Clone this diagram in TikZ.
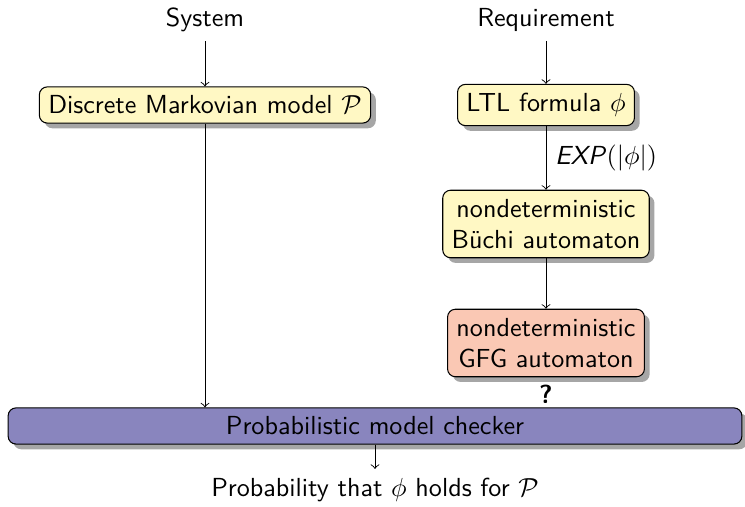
\documentclass[tikz,border=0pt]{standalone}
\usetikzlibrary{shadows}
\renewcommand{\familydefault}{\sfdefault}
\definecolor{boxyellow}{RGB}{255,248,196}
\definecolor{boxsalmon}{RGB}{250,200,180}
\definecolor{boxpurple}{RGB}{137,133,190}
\begin{document}
\begin{tikzpicture}[x=0.383pt,y=-0.383pt,
  every node/.style={font=\sffamily},
  procbox/.style={draw, rounded corners=3pt, line width=0.4pt,
    inner xsep=3.4pt, inner ysep=3.4pt,
    drop shadow={shadow xshift=2pt, shadow yshift=-2pt, opacity=0.35, fill=black}},
  yellowbox/.style={procbox, fill=boxyellow},
  twoline/.style={align=center},
  flow/.style={->, line width=0.35pt}]
\useasboundingbox (0,0) rectangle (745,507);
\node (sys) at (205,20) {System};
\node (req) at (546,20) {Requirement};
\node[yellowbox] (mdp) at (205,105) {Discrete Markovian model $\mathcal{P}$};
\node[yellowbox] (ltl) at (546,105) {LTL formula $\phi$};
\node[yellowbox, twoline] (nba) at (546,224) {nondeterministic\\B\"uchi automaton};
\node[procbox, twoline, fill=boxsalmon] (gfg) at (546,343) {nondeterministic\\GFG automaton};
\node[procbox, fill=boxpurple, minimum width=281pt, minimum height=12.6pt] (pmc) at (375,426) {Probabilistic model checker};
\node (res) at (375,490) {Probability that $\phi$ holds for $\mathcal{P}$};
\node[font=\sffamily\bfseries] (q) at (546,394) {?};
\draw[flow] (sys) -- (mdp);
\draw[flow] (req) -- (ltl);
\draw[flow] (ltl) -- node[right] {\textit{EXP}$(|\phi|)$} (nba);
\draw[flow] (nba) -- (gfg);
\draw[flow] (mdp) -- (mdp |- pmc.north);
\draw[flow] (pmc) -- (res);
\end{tikzpicture}
\end{document}
